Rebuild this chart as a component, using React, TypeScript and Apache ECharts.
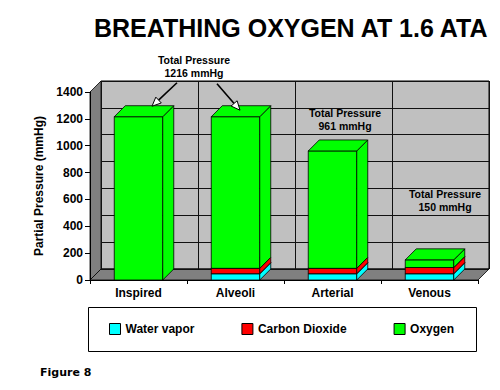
import React, { useEffect, useRef } from "react";
import * as echarts from "echarts";

const categories = ["Inspired", "Alveoli", "Arterial", "Venous"];
const waterVapor = [0, 47, 47, 47];
const carbonDioxide = [0, 40, 40, 46];
const oxygen = [1216, 1129, 874, 57];
const seriesNames = ["Water vapor", "Carbon Dioxide", "Oxygen"];
const seriesColors = ["#00ffff", "#ff0000", "#00ff00"];
const yMin = 0;
const yMax = 1400;
const yInterval = 200;
const titleText = "BREATHING OXYGEN AT 1.6 ATA";
const yAxisName = "Partial Pressure (mmHg)";
const figureLabel = "Figure 8";

// layout
const GL = 90;
const GT = 92;
const GW = 388;
const GH = 188;
const D = 11; // 3D depth offset
const FONT = '"Liberation Sans", Arial, Helvetica, sans-serif';

export default function App() {
  const ref = useRef<HTMLDivElement>(null);
  useEffect(() => {
    document.body.style.margin = "0";
    const chart = echarts.init(ref.current!, null, { renderer: "svg" });
    const allSeries = [waterVapor, carbonDioxide, oxygen];
    const bases = categories.map(() => 0);
    const series = allSeries.map((vals, s) => {
      const data = vals.map((v, i) => {
        const b = bases[i];
        bases[i] += v;
        return [i, b, b + v];
      });
      const color = seriesColors[s];
      return {
        type: "custom",
        name: seriesNames[s],
        xAxisIndex: 0,
        yAxisIndex: 0,
        itemStyle: { color },
        encode: { x: 0, y: [1, 2] },
        data,
        z: 2 + s,
        renderItem: (params: any, api: any) => {
          const cat = api.value(0);
          const base = api.value(1);
          const top = api.value(2);
          if (top - base <= 0) return null;
          const p0 = api.coord([cat, base]);
          const p1 = api.coord([cat, top]);
          const band = api.size([1, 0])[0];
          const w = band * 0.5;
          const x0 = p0[0] - w / 2;
          const x1 = p0[0] + w / 2;
          const yb = p0[1];
          const yt = p1[1];
          const st = { fill: color, stroke: "#000", lineWidth: 0.8 };
          return {
            type: "group",
            children: [
              { type: "rect", shape: { x: x0, y: yt, width: w, height: yb - yt }, style: st },
              {
                type: "polygon",
                shape: { points: [[x1, yb], [x1 + D, yb - D], [x1 + D, yt - D], [x1, yt]] },
                style: st,
              },
              {
                type: "polygon",
                shape: { points: [[x0, yt], [x1, yt], [x1 + D, yt - D], [x0 + D, yt - D]] },
                style: st,
              },
            ],
          };
        },
      };
    });

    const wallGraphics: any[] = [
      {
        type: "polygon",
        z: 0,
        shape: { points: [[GL, GT], [GL + D, GT - D], [GL + D, GT + GH - D], [GL, GT + GH]] },
        style: { fill: "#808080", stroke: "#000", lineWidth: 0.8 },
      },
      {
        type: "polygon",
        z: 0,
        shape: {
          points: [[GL, GT + GH], [GL + D, GT + GH - D], [GL + GW + D, GT + GH - D], [GL + GW, GT + GH]],
        },
        style: { fill: "#808080", stroke: "#000", lineWidth: 0.8 },
      },
      {
        type: "rect",
        z: 0,
        shape: { x: 88.5, y: 307.5, width: 388, height: 44 },
        style: { fill: "none", stroke: "#000", lineWidth: 1 },
      },
      {
        type: "text",
        z: 10,
        x: 40,
        y: 372,
        style: {
          text: figureLabel,
          font: 'bold 11px "DejaVu Sans", Verdana, sans-serif',
          fill: "#000",
          verticalAlign: "middle",
        },
      },
    ];

    const option: any = {
      animation: false,
      title: {
        text: titleText,
        left: 94,
        top: 15,
        padding: 0,
        textStyle: { fontSize: 25, fontWeight: "bold", fontFamily: FONT, color: "#000" },
      },
      legend: {
        left: 109,
        top: 323,
        itemWidth: 11,
        itemHeight: 11,
        itemGap: 47,
        icon: "rect",
        padding: 0,
        itemStyle: { borderColor: "#000", borderWidth: 1 },
        textStyle: { fontSize: 12, fontWeight: "bold", fontFamily: FONT, color: "#000" },
        data: seriesNames,
      },
      grid: [
        { left: GL, top: GT, width: GW, height: GH, show: false },
        {
          left: GL + D,
          top: GT - D,
          width: GW,
          height: GH,
          show: true,
          backgroundColor: "#c0c0c0",
          borderColor: "#000",
          borderWidth: 1,
        },
      ],
      xAxis: [
        {
          type: "category",
          gridIndex: 0,
          data: categories,
          boundaryGap: true,
          z: 5,
          axisLine: { show: true, lineStyle: { color: "#000", width: 1 } },
          axisTick: { show: true, length: 4, alignWithLabel: false, lineStyle: { color: "#000" } },
          axisLabel: { margin: 7, fontSize: 12, fontWeight: "bold", fontFamily: FONT, color: "#000" },
          splitLine: { show: false },
        },
        {
          type: "category",
          gridIndex: 1,
          data: categories,
          boundaryGap: true,
          axisLine: { show: false },
          axisTick: { show: false },
          axisLabel: { show: false },
          splitLine: { show: true, lineStyle: { color: "#111", width: 1 } },
        },
      ],
      yAxis: [
        {
          type: "value",
          gridIndex: 0,
          min: yMin,
          max: yMax,
          interval: yInterval,
          z: 5,
          name: yAxisName,
          nameLocation: "middle",
          nameRotate: 90,
          nameGap: 35,
          nameTextStyle: { fontSize: 12, fontWeight: "bold", fontFamily: FONT, color: "#000" },
          axisLine: { show: true, lineStyle: { color: "#000", width: 1 } },
          axisTick: { show: true, length: 5, lineStyle: { color: "#000" } },
          axisLabel: {
            margin: 7,
            fontSize: 12,
            fontWeight: "bold",
            fontFamily: FONT,
            color: "#000",
            formatter: (v: number) => String(v),
          },
          splitLine: { show: false },
        },
        {
          type: "value",
          gridIndex: 1,
          min: yMin,
          max: yMax,
          interval: yInterval,
          axisLine: { show: false },
          axisTick: { show: false },
          axisLabel: { show: false },
          splitLine: { show: true, lineStyle: { color: "#111", width: 1 } },
        },
      ],
      series,
      graphic: { elements: wallGraphics },
    };
    chart.setOption(option);

    // annotations positioned from the chart's own scales
    const totals = categories.map((_, i) => waterVapor[i] + carbonDioxide[i] + oxygen[i]);
    const px = (i: number, v: number) =>
      chart.convertToPixel({ xAxisIndex: 0, yAxisIndex: 0 }, [i, v]) as number[];
    const textStyle = (text: string, x: number, y: number) => ({
      type: "text",
      z: 10,
      x,
      y,
      style: {
        text,
        font: `bold 10.5px ${FONT}`,
        fill: "#000",
        align: "center",
        verticalAlign: "middle",
        lineHeight: 13,
      },
    });
    const arrow = (tail: number[], tip: number[]) => {
      const dx = tip[0] - tail[0];
      const dy = tip[1] - tail[1];
      const len = Math.hypot(dx, dy);
      const ux = dx / len;
      const uy = dy / len;
      const L = 9;
      const W = 4;
      const bx = tip[0] - ux * L;
      const by = tip[1] - uy * L;
      const pxn = -uy;
      const pyn = ux;
      return [
        {
          type: "line",
          z: 10,
          shape: { x1: tail[0], y1: tail[1], x2: bx, y2: by },
          style: { stroke: "#000", lineWidth: 1.6 },
        },
        {
          type: "polygon",
          z: 10,
          shape: {
            points: [
              [tip[0], tip[1]],
              [bx + pxn * W, by + pyn * W],
              [bx - pxn * W, by - pyn * W],
            ],
          },
          style: { fill: "#fff", stroke: "#000", lineWidth: 1 },
        },
      ];
    };
    const a0 = px(0, totals[0]);
    const a1 = px(1, totals[1]);
    const a2 = px(2, totals[2]);
    const a3 = px(3, totals[3]);
    const t0x = (a0[0] + a1[0]) / 2 + 7;
    const t0y = a0[1] - 50;
    const annotations: any[] = [
      textStyle(`Total Pressure\n${totals[0]} mmHg`, t0x, t0y),
      ...arrow([t0x - 17, t0y + 16], [a0[0] + 13.5, a0[1] - 10.5]),
      ...arrow([t0x + 23, t0y + 17], [a1[0] + 4.5, a1[1] - 6.5]),
      textStyle(`Total Pressure\n${totals[2]} mmHg`, a2[0] + 12.5, a2[1] - 31),
      textStyle(`Total Pressure\n${totals[3]} mmHg`, a3[0] + 15.5, a3[1] - 59),
    ];
    chart.setOption({ graphic: { elements: [...wallGraphics, ...annotations] } });

    return () => chart.dispose();
  }, []);
  return <div ref={ref} style={{ width: 500, height: 390 }} />;
}
